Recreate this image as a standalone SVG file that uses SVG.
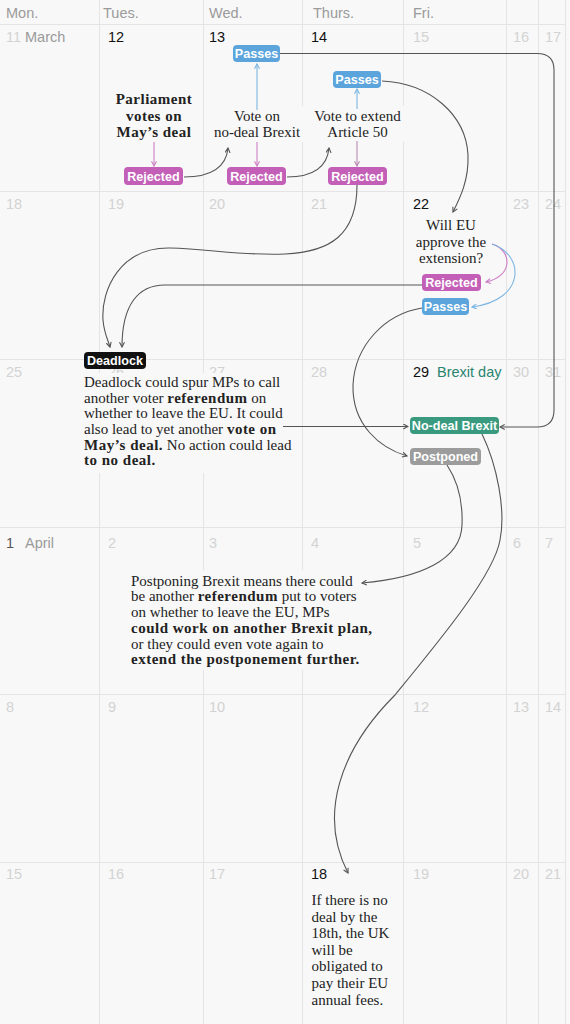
<svg xmlns="http://www.w3.org/2000/svg" width="570" height="1024" viewBox="0 0 570 1024">
<style>
.bg{fill:#f8f8f8}
.mask{fill:#f8f8f8}
.grid{stroke:#e4e4e4;stroke-width:1;fill:none}
.hd{font-family:"Liberation Sans",Arial,sans-serif;font-size:14.5px;fill:#9b9b9b}
.dn{font-family:"Liberation Sans",Arial,sans-serif;font-size:14.5px;fill:#d3d3d3}
.dk{fill:#111}
.mo{fill:#9a9a9a}
.teal{fill:#2a8470}
.ser{font-family:"Liberation Serif","Times New Roman",serif;font-size:15px;fill:#222}
.mid{text-anchor:middle}
.b{font-weight:bold;letter-spacing:0.5px}
.badge text{font-family:"Liberation Sans",Arial,sans-serif;font-weight:bold;font-size:12.6px;fill:#fff;text-anchor:middle}
.pass rect{fill:#5ba5dc}
.rej rect{fill:#c35fb6}
.dead rect{fill:#111}
.nod rect{fill:#3a9a80}
.post rect{fill:#9c9c9c}
.conn{fill:none;stroke:#555;stroke-width:1.1}
.cb{fill:none;stroke:#7db6e2;stroke-width:1.1}
.cm{fill:none;stroke:#cf7ec5;stroke-width:1.1}
.cp{fill:none;stroke:#b98ab3;stroke-width:1.1}
</style>
<defs>
<marker id="ad" viewBox="0 0 6 6" refX="5.2" refY="3" markerWidth="6" markerHeight="6" orient="auto" markerUnits="userSpaceOnUse"><path d="M0.5,0.5 L5.2,3 L0.5,5.5" fill="none" stroke="#555" stroke-width="1.1"/></marker>
<marker id="ab" viewBox="0 0 6 6" refX="5.2" refY="3" markerWidth="6" markerHeight="6" orient="auto" markerUnits="userSpaceOnUse"><path d="M0.5,0.5 L5.2,3 L0.5,5.5" fill="none" stroke="#7db6e2" stroke-width="1.1"/></marker>
<marker id="am" viewBox="0 0 6 6" refX="5.2" refY="3" markerWidth="6" markerHeight="6" orient="auto" markerUnits="userSpaceOnUse"><path d="M0.5,0.5 L5.2,3 L0.5,5.5" fill="none" stroke="#cf7ec5" stroke-width="1.1"/></marker>
<marker id="ap" viewBox="0 0 6 6" refX="5.2" refY="3" markerWidth="6" markerHeight="6" orient="auto" markerUnits="userSpaceOnUse"><path d="M0.5,0.5 L5.2,3 L0.5,5.5" fill="none" stroke="#b98ab3" stroke-width="1.1"/></marker>
</defs>

<rect class="bg" x="0" y="0" width="570" height="1024"/>

<g id="grid" class="grid">
<path d="M0,24.5H565.5M0,191.5H565.5M0,359.5H565.5M0,527.5H565.5M0,694.5H565.5M0,862.5H565.5"/>
<path d="M99.5,0V1024M203.5,0V1024M302.5,0V1024M403.5,0V1024M506.5,0V1024M538.5,0V1024M565.5,0V1024"/>
</g>

<g id="header" class="hd">
<text x="6" y="18">Mon.</text>
<text x="103" y="18">Tues.</text>
<text x="209" y="18">Wed.</text>
<text x="313" y="18">Thurs.</text>
<text x="413" y="18">Fri.</text>
</g>

<g id="dates" class="dn">
<text x="6" y="42">11</text><text x="25" y="42" class="mo">March</text>
<text x="108" y="42" class="dk">12</text><text x="209" y="42" class="dk">13</text><text x="311" y="42" class="dk">14</text>
<text x="413" y="42">15</text><text x="513" y="42">16</text><text x="545" y="42">17</text>
<text x="6" y="209">18</text><text x="108" y="209">19</text><text x="209" y="209">20</text><text x="311" y="209">21</text>
<text x="413" y="209" class="dk">22</text><text x="513" y="209">23</text><text x="545" y="209">24</text>
<text x="6" y="377">25</text><text x="108" y="377">26</text><text x="209" y="377">27</text><text x="311" y="377">28</text>
<text x="413" y="377" class="dk">29</text><text x="437" y="377" class="teal">Brexit day</text><text x="513" y="377">30</text><text x="545" y="377">31</text>
<text x="6" y="548" style="fill:#555">1</text><text x="25" y="548" class="mo">April</text>
<text x="108" y="548">2</text><text x="209" y="548">3</text><text x="311" y="548">4</text><text x="413" y="548">5</text><text x="513" y="548">6</text><text x="545" y="548">7</text>
<text x="6" y="712">8</text><text x="108" y="712">9</text><text x="209" y="712">10</text><text x="413" y="712">12</text><text x="513" y="712">13</text><text x="545" y="712">14</text>
<text x="6" y="879">15</text><text x="108" y="879">16</text><text x="209" y="879">17</text>
<text x="311" y="879" class="dk">18</text><text x="413" y="879">19</text><text x="513" y="879">20</text><text x="545" y="879">21</text>
</g>

<g id="masks" class="mask">
<rect x="110" y="90" width="90" height="52"/>
<rect x="207" y="106" width="99" height="36"/>
<rect x="308" y="106" width="98" height="36"/>
<rect x="405" y="216" width="92" height="52"/>
<rect x="80" y="373" width="210" height="100"/>
<rect x="126" y="570" width="242" height="100"/>
</g>

<g id="connectors">
<path class="conn" d="M184,177 C210,177 226,168 228,148" marker-end="url(#ad)"/>
<path class="conn" d="M287,177 C312,177 327,168 329,148" marker-end="url(#ad)"/>
<path class="cb" d="M257,110 L257,64" marker-end="url(#ab)"/>
<path class="cm" d="M257,142 L257,166" marker-end="url(#am)"/>
<path class="cm" d="M154,142 L154,166" marker-end="url(#am)"/>
<path class="cb" d="M357,109 L357,89" marker-end="url(#ab)"/>
<path class="cp" d="M357,141 L357,166" marker-end="url(#ap)"/>
<path class="conn" d="M280,53.5 L537,53.5 Q554,53.5 554,70 L554,410 Q554,427 537,427 L500,427" marker-end="url(#ad)"/>
<path class="conn" d="M382,81 C430,83 466,115 468,155 C469,180 460,198 453,212" marker-end="url(#ad)"/>
<path class="conn" d="M357,185 C357,235 330,252 285,254 C245,256 210,249 170,248 C120,247 101,290 103,320 C104,333 108,340 110,347" marker-end="url(#ad)"/>
<path class="conn" d="M422,285 L165,285 C138,285 122,305 122,347" marker-end="url(#ad)"/>
<path class="cm" d="M492,244 C512,250 514,276 486,282" marker-end="url(#am)"/>
<path class="cb" d="M492,244 C525,255 526,300 472,307" marker-end="url(#ab)"/>
<path class="conn" d="M422,308 C385,314 355,345 353,385 C352,425 380,448 407,456" marker-end="url(#ad)"/>
<path class="conn" d="M283,426.5 L408,426.5" marker-end="url(#ad)"/>
<path class="conn" d="M447,465 C457,480 463,500 462,525 C461,560 420,578 362,583" marker-end="url(#ad)"/>
<path class="conn" d="M482,434 C497,465 506,510 500,540 C494,575 440,640 395,695 C340,750 318,815 348,873" marker-end="url(#ad)"/>
</g>

<g id="parliament-vote" class="ser mid">
<text x="154" y="104" class="b">Parliament</text>
<text x="154" y="120.5" class="b">votes on</text>
<text x="154" y="137" class="b">May’s deal</text>
</g>
<g id="vote-no-deal" class="ser mid">
<text x="257" y="120.5">Vote on</text>
<text x="257" y="137">no-deal Brexit</text>
</g>
<g id="vote-extend" class="ser mid">
<text x="357.5" y="120.5">Vote to extend</text>
<text x="357.5" y="137">Article 50</text>
</g>
<g id="eu-approve" class="ser mid">
<text x="451" y="230">Will EU</text>
<text x="451" y="246.5">approve the</text>
<text x="451" y="263">extension?</text>
</g>

<g id="passes-13" class="badge pass"><rect x="233" y="45" width="47" height="17" rx="4"/><text x="256.5" y="58">Passes</text></g>
<g id="rejected-12" class="badge rej"><rect x="124" y="167" width="59" height="18" rx="4"/><text x="153.5" y="180.5">Rejected</text></g>
<g id="rejected-13" class="badge rej"><rect x="227" y="167" width="59" height="18" rx="4"/><text x="256.5" y="180.5">Rejected</text></g>
<g id="passes-14" class="badge pass"><rect x="333" y="71" width="48" height="17" rx="4"/><text x="357" y="84">Passes</text></g>
<g id="rejected-14" class="badge rej"><rect x="328" y="167" width="59" height="18" rx="4"/><text x="357.5" y="180.5">Rejected</text></g>
<g id="rejected-22" class="badge rej"><rect x="422" y="274" width="59" height="17" rx="4"/><text x="451.5" y="287">Rejected</text></g>
<g id="passes-22" class="badge pass"><rect x="422" y="298" width="47" height="17" rx="4"/><text x="445.5" y="311">Passes</text></g>
<g id="deadlock" class="badge dead"><rect x="84" y="352" width="62" height="17" rx="4"/><text x="115" y="365">Deadlock</text></g>
<g id="no-deal-brexit" class="badge nod"><rect x="410" y="417" width="89" height="17" rx="4"/><text x="454.5" y="430">No-deal Brexit</text></g>
<g id="postponed" class="badge post"><rect x="410" y="448" width="71" height="17" rx="4"/><text x="445.5" y="461">Postponed</text></g>

<g id="deadlock-text" class="ser">
<text x="84" y="387">Deadlock could spur MPs to call</text>
<text x="84" y="402.7">another voter <tspan class="b">referendum</tspan> on</text>
<text x="84" y="418.4">whether to leave the EU. It could</text>
<text x="84" y="434">also lead to yet another <tspan class="b">vote on</tspan></text>
<text x="84" y="449.7"><tspan class="b">May’s deal.</tspan> No action could lead</text>
<text x="84" y="465.4" class="b">to no deal.</text>
</g>

<g id="postpone-text" class="ser">
<text x="131" y="585.7">Postponing Brexit means there could</text>
<text x="131" y="601.4">be another <tspan class="b">referendum</tspan> put to voters</text>
<text x="131" y="617.1">on whether to leave the EU, MPs</text>
<text x="131" y="632.8" class="b">could work on another Brexit plan,</text>
<text x="131" y="648.5">or they could even vote again to</text>
<text x="131" y="664.2" class="b">extend the postponement further.</text>
</g>

<g id="fees-text" class="ser">
<text x="311.5" y="905">If there is no</text>
<text x="311.5" y="921.6">deal by the</text>
<text x="311.5" y="938.2">18th, the UK</text>
<text x="311.5" y="954.8">will be</text>
<text x="311.5" y="971.4">obligated to</text>
<text x="311.5" y="988">pay their EU</text>
<text x="311.5" y="1004.6">annual fees.</text>
</g>
</svg>
